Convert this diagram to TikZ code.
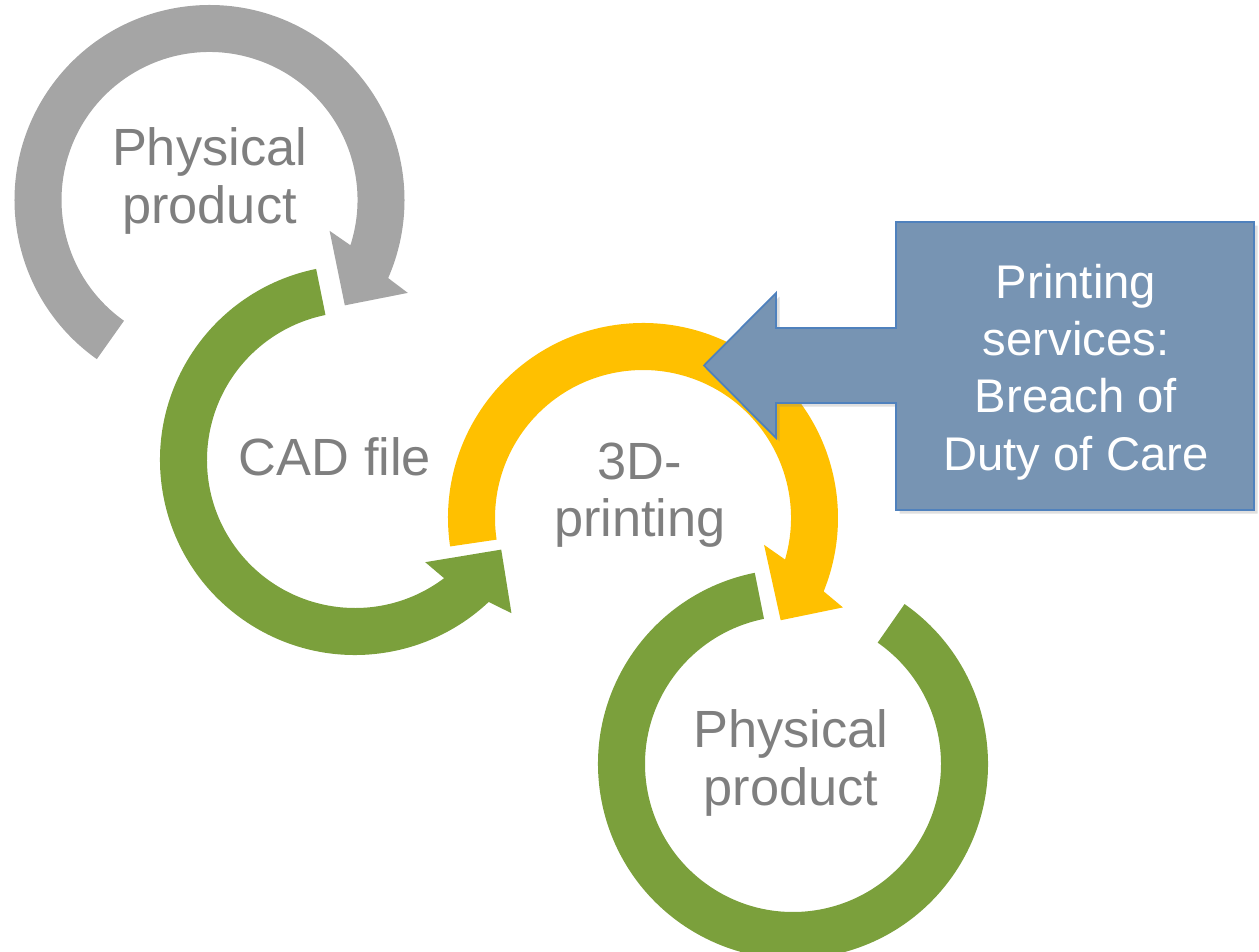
\documentclass[tikz,border=0pt]{standalone}
\usepackage{fontspec}
\setmainfont{Liberation Sans}
\usetikzlibrary{shadows}

\definecolor{cycgray}{HTML}{A5A5A5}
\definecolor{cycgreen}{HTML}{7BA03C}
\definecolor{cycyellow}{HTML}{FFC000}
\definecolor{boxfill}{HTML}{7794B3}
\definecolor{boxline}{HTML}{4F81BD}
\definecolor{labelgray}{HTML}{7F7F7F}

%% circular band with head: colour, centre, tail, inner notch, outer notch,
%% inner barb, outer barb, tip (all angles)
\newcommand{\cycarrow}[8]{%
  \fill[#1,shift={(#2)}] (#3:195) arc[start angle=#3,end angle=#5,radius=195]
    -- (#7:219) -- (#8:171.5) -- (#6:124) -- (#4:148)
    arc[start angle=#4,end angle=#3,radius=148] -- cycle;}

\begin{document}
\begin{tikzpicture}[x=0.02cm,y=0.02cm,
    cyclabel/.style={text=labelgray,align=center,
      font=\fontsize{29.8}{32.5}\selectfont},
    boxlabel/.style={text=white,align=center,
      font=\fontsize{26.9}{32.7}\selectfont}]
    \useasboundingbox (0,0) rectangle (1259,-952);

    \coordinate (c1) at (209.5,-200);
    \coordinate (c2) at (355,-460);
    \coordinate (c3) at (643,-518);
    \coordinate (c4) at (793,-764);

    %% cycle arrows
    \cycarrow{cycgray}{c1}{234.7}{-17.8}{-23.6}{-14.4}{-25.1}{-37.9}
    \cycarrow{cycgreen}{c2}{101.5}{307}{313.3}{304.5}{315.6}{328.5}
    \cycarrow{cycyellow}{c3}{188.4}{-16.3}{-22.1}{-12.5}{-24.1}{-36.6}
    %% last one has no head
    \fill[cycgreen,shift={(c4)}] (101.3:195) arc[start angle=101.3,end angle=415.1,radius=195]
      -- (415.1:148) arc[start angle=415.1,end angle=101.3,radius=148] -- cycle;

    %% callout
    \filldraw[fill=boxfill,draw=boxline,line width=1pt,line join=miter,
      drop shadow={opacity=0.25,shadow xshift=2pt,shadow yshift=-2pt}]
      (896,-222) -- (1254,-222) -- (1254,-510) -- (896,-510) -- (896,-403)
      -- (776,-403) -- (776,-438) -- (704,-365.5) -- (776,-293)
      -- (776,-328) -- (896,-328) -- cycle;

    %% labels
    \node[cyclabel] (1) at (209.5,-181) {Physical\\product};
    \node[cyclabel] (2) at (335,-457) {CAD file};
    \node[cyclabel] (3) at (640,-495) {3D-\\printing};
    \node[cyclabel] (4) at (791,-763) {Physical\\product};
    \node[boxlabel] (5) at (1076,-372) {Printing\\services:\\Breach of\\Duty of Care};
\end{tikzpicture}
\end{document}
